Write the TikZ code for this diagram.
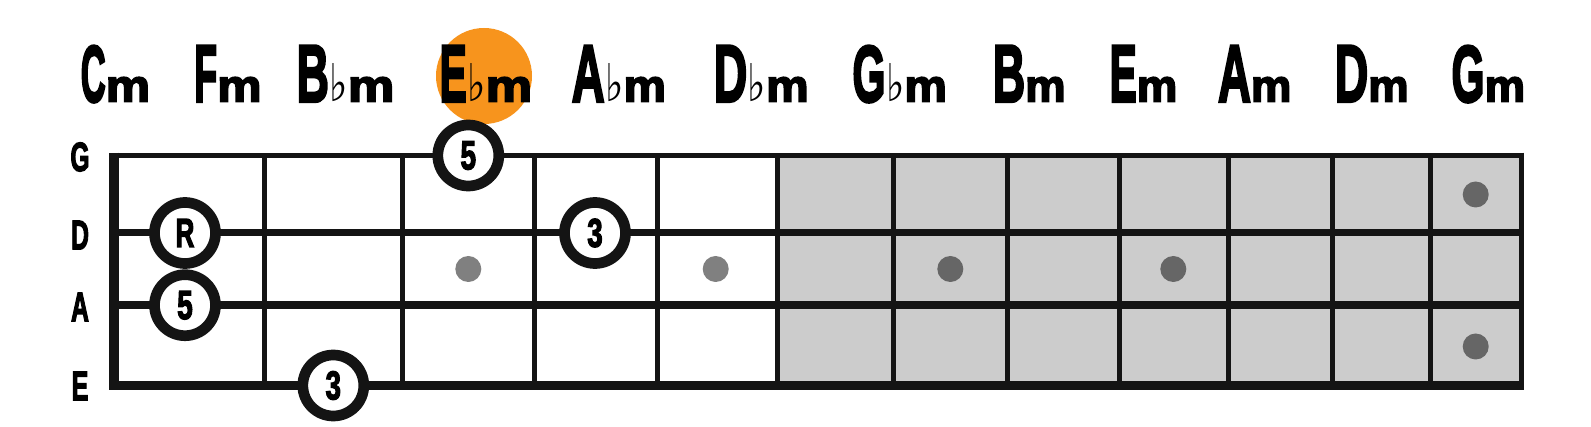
\documentclass[tikz,border=0pt]{standalone}
\usepackage{fontspec}
\usepackage{graphicx}
\setmainfont{Liberation Sans}
\newfontfamily\hv{Liberation Sans}[BoldFeatures={FakeBold=3.5}]
\newfontfamily\symfnt{DejaVu Sans}
\definecolor{orng}{RGB}{247,148,29}
\definecolor{boardgray}{RGB}{204,204,204}
\definecolor{dotlight}{RGB}{128,128,128}
\definecolor{dotdark}{RGB}{102,102,102}
\definecolor{ink}{RGB}{20,20,20}
% capital of a chord name: #1 horizontal scale, #2 letter
\newcommand\chcap[2]{\scalebox{#1}[1]{\resizebox{!}{56pt}{\hv\bfseries #2}}}
% minor sign: #1 horizontal scale
\newcommand\chm[1]{\scalebox{#1}[1]{\resizebox{!}{24.5pt}{\hv\bfseries m}}}
\newcommand\chflat{\hspace{0.5pt}\scalebox{0.75}[1]{\resizebox{!}{38pt}{\symfnt ♭}}\hspace{0pt}}
\newcommand\strl[1]{\scalebox{0.6}[1]{\resizebox{!}{28.5pt}{\hv\bfseries #1}}}
\newcommand\ntxt[2]{\scalebox{#1}[1]{\resizebox{!}{28pt}{\hv\bfseries #2}}}
\begin{document}
\begin{tikzpicture}[x=1pt,y=-1pt,
  chord/.style={anchor=base, inner sep=0pt, outer sep=0pt},
  strlab/.style={anchor=center, inner sep=0pt, outer sep=0pt},
  note/.style={circle, draw=ink, line width=10.7pt, fill=white, minimum size=61pt, inner sep=0pt},
  fretline/.style={line width=5pt, draw=ink},
  fdot/.style={circle, minimum size=26pt, inner sep=0pt},
  lightdot/.style={fdot, fill=dotlight},
  darkdot/.style={fdot, fill=dotdark}]
\useasboundingbox (0,0) rectangle (1591,427);
\fill[white] (0,0) rectangle (1591,427);
% shaded part of the neck
\fill[boardgray] (777.5,155.5) rectangle (1521,385.5);
% frets
\foreach \x in {264.2,402.5,534.2,657.5,777.5,893.5,1007.5,1119.2,1228.2,1332.5,1430.8}
  \draw[fretline] (\x,155.5) -- (\x,385.5);
% strings
\draw[draw=ink, line width=5.5pt] (109,155.5) -- (1523.5,155.5);
\draw[draw=ink, line width=7pt] (109,233) -- (1523.5,233);
\draw[draw=ink, line width=8.3pt] (109,305.2) -- (1523.5,305.2);
\draw[draw=ink, line width=9.5pt] (109,385.5) -- (1523.5,385.5);
% nut and end
\draw[draw=ink, line width=10pt] (114,152.7) -- (114,390.25);
\draw[draw=ink, line width=5pt] (1521,152.75) -- (1521,390.25);
% fret dots
\node[lightdot] (d1) at (468.3,269) {};
\node[lightdot] (d2) at (715.7,269) {};
\node[darkdot] (d3) at (950.3,269) {};
\node[darkdot] (d4) at (1173.3,269) {};
\node[darkdot] (d5) at (1475.7,194.5) {};
\node[darkdot] (d6) at (1475.7,346.5) {};
% highlight
\node[circle, fill=orng, minimum size=96pt, inner sep=0pt] (hl) at (484,76) {};
% chord names
\node[chord] (cCm) at (115.5,101.7) {\chcap{0.43}{C}\chm{1.1}};
\node[chord] (cFm) at (228,101.7) {\chcap{0.46}{F}\chm{1.1}};
\node[chord] (cBbm) at (345.5,101.7) {\chcap{0.55}{B}\chflat\chm{1.15}};
\node[chord] (cEbm) at (485.9,101.7) {\chcap{0.5}{E}\chflat\chm{1.15}};
\node[chord] (cAbm) at (618.9,101.7) {\chcap{0.56}{A}\chflat\chm{1.05}};
\node[chord] (cDbm) at (761.2,101.7) {\chcap{0.57}{D}\chflat\chm{1.05}};
\node[chord] (cGbm) at (899.7,101.7) {\chcap{0.53}{G}\chflat\chm{1.05}};
\node[chord] (cBm) at (1029.2,101.7) {\chcap{0.55}{B}\chm{1.0}};
\node[chord] (cEm) at (1143.5,101.7) {\chcap{0.5}{E}\chm{1.0}};
\node[chord] (cAm) at (1254.7,101.7) {\chcap{0.56}{A}\chm{1.0}};
\node[chord] (cDm) at (1371.7,101.7) {\chcap{0.57}{D}\chm{1.0}};
\node[chord] (cGm) at (1488.3,101.7) {\chcap{0.53}{G}\chm{1.0}};
% string names
\node[strlab] (sG) at (80,157) {\strl{G}};
\node[strlab] (sD) at (80,235) {\strl{D}};
\node[strlab] (sA) at (80,307) {\strl{A}};
\node[strlab] (sE) at (80,386) {\strl{E}};
% notes
\node[note] (n5G) at (468.3,155.5) {\ntxt{0.69}{5}};
\node[note] (nRD) at (185,233) {\ntxt{0.64}{R}};
\node[note] (n5A) at (185,305.2) {\ntxt{0.69}{5}};
\node[note] (n3E) at (333.3,385.5) {\ntxt{0.69}{3}};
\node[note] (n3D) at (595,233) {\ntxt{0.69}{3}};
\end{tikzpicture}
\end{document}
